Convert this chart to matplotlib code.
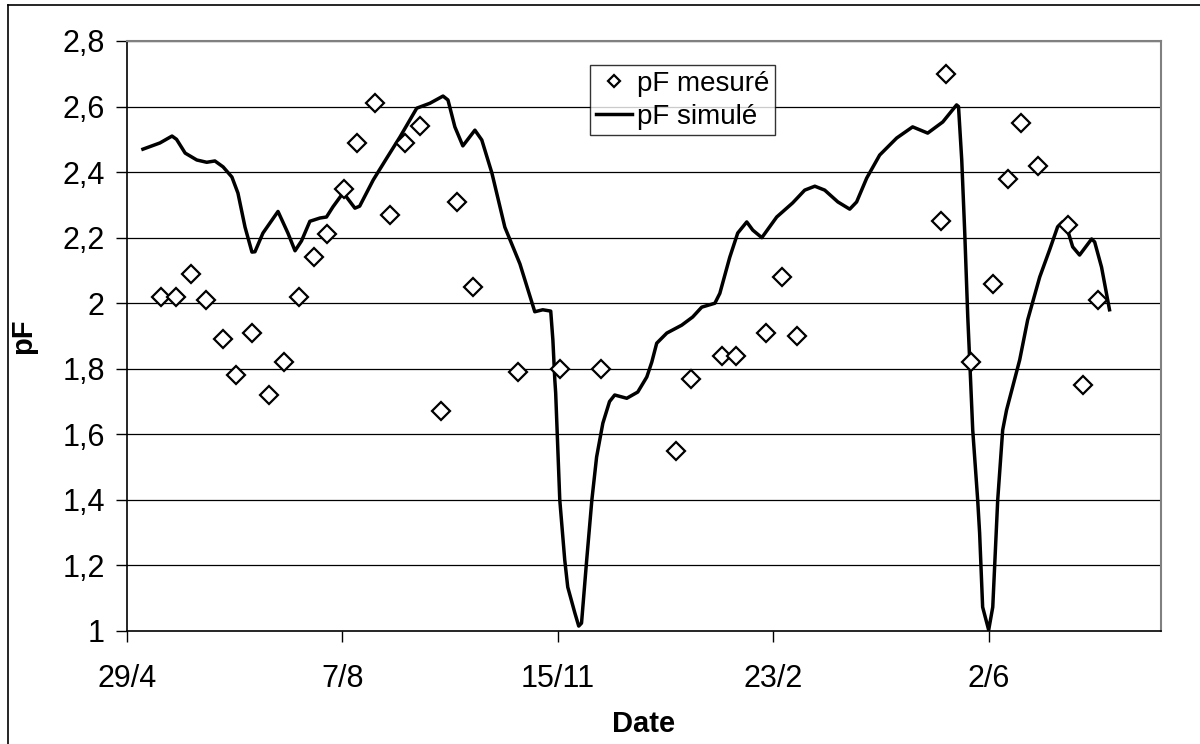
import matplotlib.pyplot as plt
from matplotlib.lines import Line2D

plt.rcParams['font.family'] = ['Liberation Sans', 'DejaVu Sans']

# jours depuis le 29/4
jours_mesure = [15.8, 22.7, 29.7, 36.7, 44.5, 50.6, 58, 65.9, 72.9, 79.8, 86.8, 92.8,
                100.7, 106.7, 115, 122, 129, 136, 145.7, 153, 160.6, 181.4, 200.9, 220,
                254.8, 261.7, 276, 282.6, 296.5, 304, 311, 377.7, 380, 391.6, 401.8,
                408.8, 414.8, 422.7, 437, 443.6, 450.6]
pf_mesure = [2.02, 2.02, 2.09, 2.01, 1.89, 1.78, 1.91, 1.72, 1.82, 2.02, 2.14, 2.21,
             2.35, 2.49, 2.61, 2.27, 2.49, 2.54, 1.67, 2.31, 2.05, 1.79, 1.80, 1.80,
             1.55, 1.77, 1.84, 1.84, 1.91, 2.08, 1.90, 2.25, 2.70, 1.82, 2.06,
             2.38, 2.55, 2.42, 2.24, 1.75, 2.01]

jours_simule = [7.4, 15.3, 20.9, 23, 27, 32.4, 37, 40.8, 44.6, 48.7, 51.5, 54.8, 58, 59.4,
                63.1, 70.1, 74.7, 78, 81, 84.9, 89.6, 92.6, 95.6, 99.6, 101.9, 105.8, 108,
                114.3, 120.6, 126.7, 134.5, 140.6, 146.7, 149, 152.2, 155.9, 161.5, 164.7,
                169.4, 175.4, 182.4, 189.3, 193, 196.7, 197.7, 198.6, 199, 200.9, 203.2,
                204.6, 207.9, 209.7, 211, 213.4, 215.8, 218, 220.9, 224, 226.4, 232, 237.1,
                241.3, 243.6, 245.9, 250.6, 257.5, 262.6, 266.8, 272.9, 275.2, 279.8, 283.5,
                287.7, 290.5, 294.7, 301.6, 309, 314.6, 319.3, 323.9, 330, 335.5, 338.7,
                343.4, 349.4, 357.3, 364.7, 371.7, 378.7, 385.1, 386, 387.5, 388.9, 390.3,
                391.6, 392.6, 394.9, 395.8, 397.2, 400, 401.9, 404.2, 406.5, 408.3, 411.1,
                414.4, 418.1, 423.7, 428.3, 432, 434.3, 436.2, 439, 442.2, 447.8, 449.2,
                452.4, 456.1]
pf_simule = [2.47, 2.489, 2.51, 2.50, 2.458, 2.437, 2.43, 2.434, 2.416, 2.385, 2.336, 2.232,
             2.156, 2.157, 2.214, 2.28, 2.214, 2.16, 2.19, 2.25, 2.26, 2.263, 2.294, 2.33,
             2.324, 2.29, 2.296, 2.376, 2.443, 2.507, 2.595, 2.61, 2.632, 2.62, 2.538, 2.48,
             2.528, 2.498, 2.397, 2.232, 2.12, 1.974, 1.98, 1.976, 1.888, 1.766, 1.726, 1.40,
             1.217, 1.134, 1.055, 1.015, 1.024, 1.217, 1.40, 1.531, 1.634, 1.70, 1.72, 1.71,
             1.729, 1.775, 1.82, 1.878, 1.909, 1.933, 1.958, 1.988, 2.0, 2.03, 2.14, 2.214,
             2.248, 2.223, 2.20, 2.263, 2.306, 2.345, 2.357, 2.345, 2.309, 2.287, 2.309,
             2.382, 2.452, 2.504, 2.538, 2.519, 2.553, 2.605, 2.60, 2.437, 2.214, 1.958,
             1.766, 1.613, 1.40, 1.299, 1.073, 1.003, 1.073, 1.40, 1.613, 1.674, 1.744,
             1.827, 1.949, 2.08, 2.163, 2.233, 2.248, 2.233, 2.172, 2.147, 2.196, 2.187,
             2.11, 1.98]

ticks_x = [0, 100, 200, 300, 400]
labels_x = ['29/4', '7/8', '15/11', '23/2', '2/6']
ticks_y = [1, 1.2, 1.4, 1.6, 1.8, 2, 2.2, 2.4, 2.6, 2.8]
labels_y = ['1', '1,2', '1,4', '1,6', '1,8', '2', '2,2', '2,4', '2,6', '2,8']

fig = plt.figure(figsize=(12, 7.44), dpi=100)
ax = fig.add_axes([127 / 1200, 113 / 744, 1034 / 1200, 590 / 744])

# bordure de la zone du graphique (gauche et haut)
fig.add_artist(Line2D([8 / 1200, 8 / 1200], [0, 1 - 5 / 744], color='black', lw=1.2))
fig.add_artist(Line2D([8 / 1200, 1], [1 - 5 / 744, 1 - 5 / 744], color='black', lw=1.2))

for yv in ticks_y[1:]:
    ax.axhline(yv, color='black', lw=0.9, zorder=1)

ax.plot(jours_simule, pf_simule, color='black', lw=2.5, zorder=3, label='pF simulé',
        solid_joinstyle='round')
ax.plot(jours_mesure, pf_mesure, linestyle='none', marker='D', markersize=9.5,
        markerfacecolor='white', markeredgecolor='black', markeredgewidth=1.6,
        zorder=4, label='pF mesuré')

ax.set_xlim(0, 480)
ax.set_ylim(1, 2.8)
ax.set_xticks(ticks_x)
ax.set_xticklabels(labels_x)
ax.set_yticks(ticks_y)
ax.set_yticklabels(labels_y)
ax.tick_params(axis='both', labelsize=22, direction='out', length=8, width=1, pad=8)
ax.tick_params(axis='x', pad=16)

for s in ['left', 'bottom']:
    ax.spines[s].set_color('black')
    ax.spines[s].set_linewidth(1.2)
for s in ['top', 'right']:
    ax.spines[s].set_color('#808080')
    ax.spines[s].set_linewidth(1.5)

ax.set_xlabel('Date', fontsize=21, fontweight='bold', labelpad=11)
ax.set_ylabel('pF', fontsize=21, fontweight='bold', labelpad=18)

h, l = ax.get_legend_handles_labels()
leg = ax.legend([h[1], h[0]], [l[1], l[0]], loc='upper left',
                bbox_to_anchor=((590 - 127) / 1034, (631 - 65) / 590),
                fontsize=20, frameon=True, fancybox=False, edgecolor='black',
                handlelength=1.3, handletextpad=0.2, borderpad=0.2, labelspacing=0.25,
                borderaxespad=0, markerscale=0.6)
leg.get_frame().set_linewidth(1)

fig.savefig('out.png', dpi=100)
